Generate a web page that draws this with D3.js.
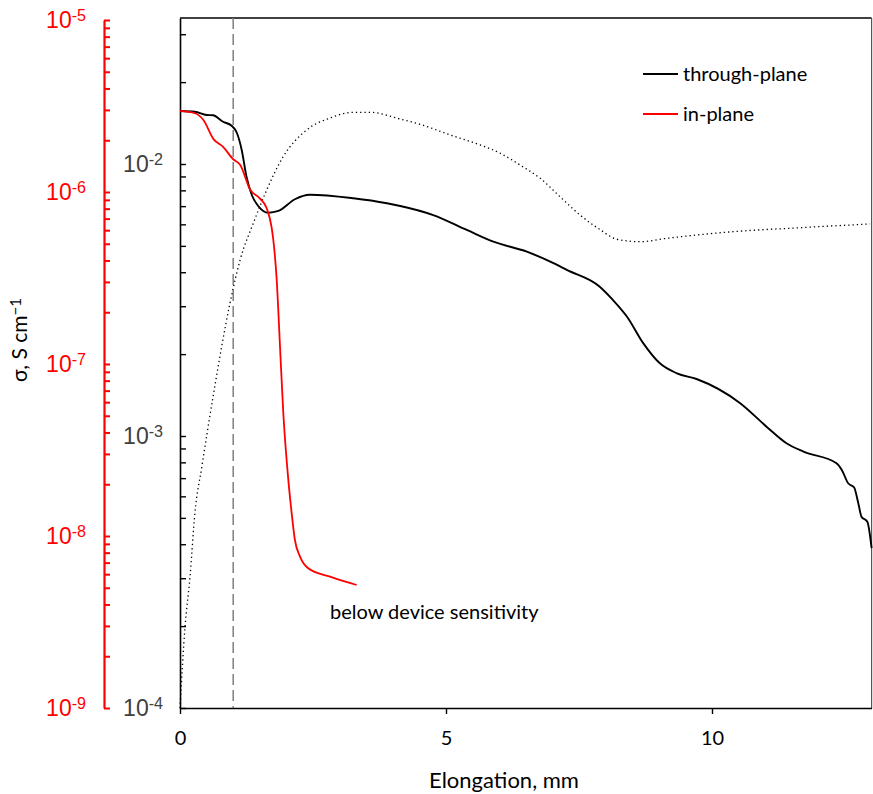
<!DOCTYPE html>
<html>
<head>
<meta charset="utf-8">
<script src="https://cdn.jsdelivr.net/npm/d3@7"></script>
<style>
  html, body { margin: 0; padding: 0; background: #fff; }
  svg { display: block; font-family: Lato, "Open Sans", sans-serif; }
</style>
</head>
<body>
<svg id="chart" width="873" height="794"></svg>
<script>
// Elongation (mm) and conductivity (S/cm) series
const throughX = [0, 0.28, 0.50, 0.62, 0.81, 0.97, 1.07, 1.16, 1.25, 1.35, 1.47, 1.66, 1.85, 2.16, 2.44, 3.26, 3.89, 4.14, 4.76, 5.39, 5.89, 6.52, 7.02, 7.27, 7.89, 8.14, 8.40, 8.71, 9.02, 9.34, 9.71, 10.53, 11.03, 11.40, 11.72, 12.34, 12.44, 12.56, 12.67, 12.75, 12.81, 12.92, 13.0];
const throughY = [0.01567, 0.01557, 0.01514, 0.0151, 0.0143, 0.01383, 0.0130, 0.01126, 0.00898, 0.00769, 0.00701, 0.00662, 0.00672, 0.00742, 0.00771, 0.00748, 0.00717, 0.00701, 0.00649, 0.00572, 0.00518, 0.00476, 0.00432, 0.00408, 0.00354, 0.00316, 0.00275, 0.00219, 0.00185, 0.00170, 0.00162, 0.00132, 0.00108, 0.00094, 0.000876, 0.000794, 0.00075, 0.00067, 0.000648, 0.000566, 0.000505, 0.000484, 0.000387];

const inPlaneX = [0, 0.28, 0.44, 0.63, 0.81, 1.00, 1.13, 1.32, 1.50, 1.63, 1.72, 1.754, 1.818, 1.88, 1.942, 2.036, 2.10, 2.16, 2.256, 2.41, 2.82, 3.32];
const inPlaneY = [2.96e-6, 2.87e-6, 2.62e-6, 2.03e-6, 1.83e-6, 1.55e-6, 1.44e-6, 1.03e-6, 9.19e-7, 8.04e-7, 6.28e-7, 5.26e-7, 3.08e-7, 1.26e-7, 5.17e-8, 2.12e-8, 1.35e-8, 9.48e-9, 7.58e-9, 6.49e-9, 5.80e-9, 5.19e-9];

const dottedX = [0, 0.094, 0.188, 0.28, 0.41, 0.62, 0.94, 1.13, 1.38, 1.63, 1.94, 2.38, 2.82, 3.26, 3.57, 4.14, 4.51, 5.08, 5.64, 6.02, 6.39, 6.77, 7.14, 7.52, 7.89, 8.21, 8.65, 9.15, 10.40, 11.65, 12.97];
const dottedY = [1.0e-4, 1.98e-4, 3.03e-4, 5.21e-4, 7.69e-4, 1.39e-3, 3.08e-3, 4.44e-3, 6.07e-3, 8.03e-3, 0.01064, 0.01334, 0.01476, 0.01549, 0.01549, 0.01463, 0.0140, 0.01278, 0.01175, 0.01095, 0.00992, 0.00886, 0.00759, 0.00649, 0.00575, 0.00529, 0.00518, 0.00533, 0.00564, 0.00583, 0.00602];

const xTicks = [0, 5, 10];
const blackExponents = [-4, -3, -2];
const redExponents = [-9, -8, -7, -6, -5];
const sensitivityX = 1.0;   // vertical reference at 1 mm
const legendLabels = ["through-plane", "in-plane"];
const noteText = "below device sensitivity";

const svg = d3.select("#chart");

const plotLeft = 180, plotRight = 871.6, plotBottom = 708, plotTop = 18;
const redAxisX = 104;

const x = d3.scaleLinear().domain([0, 13]).range([plotLeft, plotRight]);
const yB = d3.scaleLog().domain([1e-4, Math.pow(10, -2 + 146 / 272)]).range([plotBottom, plotTop]);
const yR = d3.scaleLog().domain([1e-9, 1e-5]).range([plotBottom, 20]);

// decade ticks plus 2..9 minors, capped at maxVal on the last decade
function logTicks(exps, maxVal) {
  const out = [];
  exps.forEach((e, i) => {
    const base = Math.pow(10, e);
    out.push(base);
    const last = i === exps.length - 1;
    if (last && maxVal === undefined) return;
    for (let k = 2; k <= 9; k++) {
      const v = k * base;
      if (maxVal !== undefined && v > maxVal) break;
      out.push(v);
    }
  });
  return out;
}

function supLabels(sel, exps, color, fs) {
  sel.selectAll(".tick text").each(function (d) {
    const e = Math.round(Math.log10(d));
    const isMajor = Math.abs(d - Math.pow(10, e)) / d < 1e-6 && exps.includes(e);
    const t = d3.select(this);
    t.text(null);
    if (!isMajor) return;
    t.attr("fill", color).attr("font-size", fs);
    t.append("tspan").text("10");
    t.append("tspan").attr("dy", "-0.42em").attr("font-size", "0.7em").text("-" + Math.abs(e));
  });
}

// Red (in-plane) axis
const redAxis = d3.axisLeft(yR)
  .tickValues(logTicks(redExponents))
  .tickSizeInner(-6).tickSizeOuter(0).tickPadding(18)
  .tickFormat(() => "x");
const gR = svg.append("g").attr("transform", `translate(${redAxisX},0)`).call(redAxis);
gR.select(".domain").attr("stroke", "#ff0000").attr("stroke-width", 2.2);
gR.selectAll(".tick line").attr("stroke", "#ff0000").attr("stroke-width", 2);
supLabels(gR, redExponents, "#ff0000", 23);

// Black (through-plane) axis
const blackAxis = d3.axisLeft(yB)
  .tickValues(logTicks(blackExponents, yB.domain()[1]))
  .tickSizeInner(-6).tickSizeOuter(0).tickPadding(17)
  .tickFormat(() => "x");
const gB = svg.append("g").attr("transform", `translate(${plotLeft},0)`).call(blackAxis);
gB.select(".domain").attr("stroke", "#000").attr("stroke-width", 1.6);
gB.selectAll(".tick line").attr("stroke", "#000").attr("stroke-width", 1.4);
supLabels(gB, blackExponents, "#404040", 23);

// Frame (top and right)
svg.append("path")
  .attr("d", `M${plotLeft},${plotTop}H${plotRight}`)
  .attr("fill", "none").attr("stroke", "#000").attr("stroke-width", 1.4);
svg.append("path")
  .attr("d", `M${plotRight},${plotTop}V${plotBottom}`)
  .attr("fill", "none").attr("stroke", "#555").attr("stroke-width", 1.2);

// X axis
const xAxis = d3.axisBottom(x).tickValues(xTicks).tickSizeInner(6).tickSizeOuter(0).tickPadding(17)
  .tickFormat(d3.format("d"));
const gX = svg.append("g").attr("transform", `translate(0,${plotBottom})`).call(xAxis);
gX.select(".domain").attr("stroke", "#000").attr("stroke-width", 1.6);
gX.selectAll(".tick line").attr("stroke", "#000").attr("stroke-width", 1.4);
gX.selectAll(".tick text").attr("fill", "#000").attr("font-size", 20).attr("font-family", "Lato, sans-serif");

// Axis titles
svg.append("text")
  .attr("x", 504).attr("y", 788)
  .attr("text-anchor", "middle").attr("font-size", 22).attr("fill", "#000")
  .text("Elongation, mm");

const yt = svg.append("text")
  .attr("transform", "translate(27,340) rotate(-90)")
  .attr("text-anchor", "middle").attr("font-size", 21).attr("fill", "#000");
yt.append("tspan").text("σ, S cm");
yt.append("tspan").attr("dy", "-0.42em").attr("font-size", "0.72em").text("−1");

// Dashed reference line at 1 mm
svg.append("line")
  .attr("x1", x(sensitivityX)).attr("x2", x(sensitivityX))
  .attr("y1", plotTop).attr("y2", plotBottom)
  .attr("stroke", "#7f7f7f").attr("stroke-width", 1.5).attr("stroke-dasharray", "11,5");

// Series
const lineB = d3.line().x(d => x(d[0])).y(d => yB(d[1])).curve(d3.curveMonotoneX);
const lineR = d3.line().x(d => x(d[0])).y(d => yR(d[1])).curve(d3.curveMonotoneX);

svg.append("path")
  .datum(d3.zip(dottedX, dottedY))
  .attr("d", lineB).attr("fill", "none")
  .attr("stroke", "#000").attr("stroke-width", 1.3).attr("stroke-dasharray", "1.3,3");

svg.append("path")
  .datum(d3.zip(throughX, throughY))
  .attr("d", lineB).attr("fill", "none")
  .attr("stroke", "#000").attr("stroke-width", 1.9).attr("stroke-linejoin", "round");

svg.append("path")
  .datum(d3.zip(inPlaneX, inPlaneY))
  .attr("d", lineR).attr("fill", "none")
  .attr("stroke", "#ff0000").attr("stroke-width", 1.8).attr("stroke-linejoin", "round");

// Legend
const legendColors = ["#000", "#ff0000"];
legendLabels.forEach((lab, i) => {
  const ly = 74 + i * 40;
  svg.append("line").attr("x1", 643).attr("x2", 678).attr("y1", ly).attr("y2", ly)
    .attr("stroke", legendColors[i]).attr("stroke-width", 1.8);
  svg.append("text").attr("x", 683).attr("y", ly).attr("dy", "0.35em")
    .attr("font-size", 20).attr("fill", "#000").text(lab);
});

// Annotation under the in-plane tail
svg.append("text").attr("x", 330).attr("y", 619)
  .attr("font-size", 20).attr("fill", "#000").text(noteText);
</script>
</body>
</html>
